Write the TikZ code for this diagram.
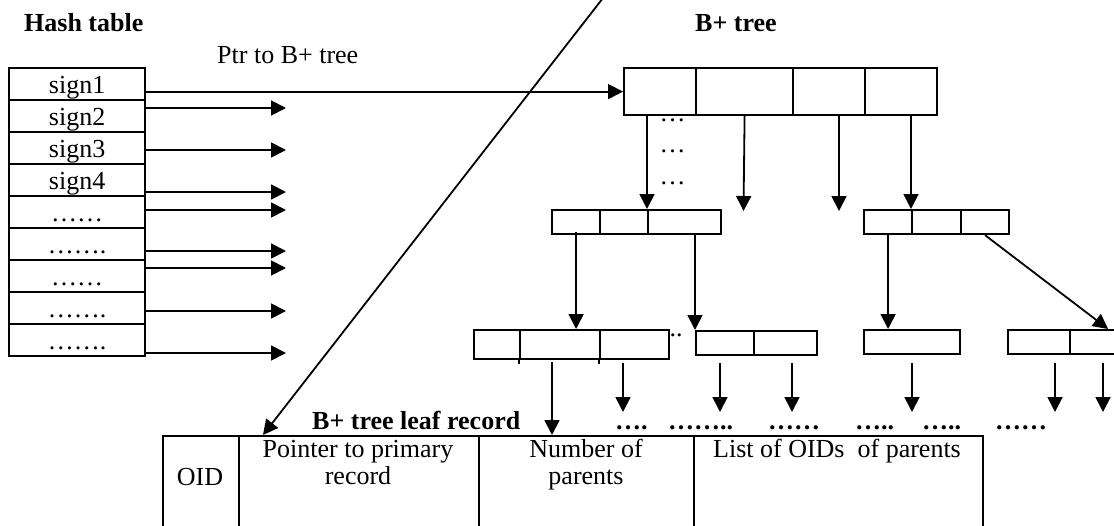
\documentclass[tikz,border=0pt]{standalone}
\usepackage{fontspec}
\setmainfont{Liberation Serif}
\usetikzlibrary{arrows.meta}
\tikzset{
  cell/.style={draw, line width=2.2pt, inner sep=0pt, anchor=north west},
  htrow/.style={cell, minimum width=136pt, minimum height=32pt, text height=25pt, text depth=7pt},
  arr/.style={line width=1.8pt, -{Triangle[length=15pt,width=15pt]}},
  txt/.style={inner sep=0pt, anchor=base},
  txtw/.style={inner sep=0pt, anchor=base west},
  btxt/.style={txtw, font=\fontsize{26}{30}\selectfont\bfseries}
}
\begin{document}
\begin{tikzpicture}[x=1pt, y=-1pt, font=\fontsize{26}{30}\selectfont]
\useasboundingbox (0,0) rectangle (1114,525);
\clip (0,0) rectangle (1114,525);

% titles
\node[btxt] (tHash) at (24,31) {Hash table};
\node[txtw] (tPtr) at (217,63) {Ptr to B+ tree};
\node[btxt] (tTree) at (695,31) {B+ tree};
\node[btxt] (tLeaf) at (312,429) {B+ tree leaf record};

% hash table rows
\node[htrow] (r1) at (8,67) {sign1};
\node[htrow] (r2) at (8,99) {sign2};
\node[htrow] (r3) at (8,131) {sign3};
\node[htrow] (r4) at (8,163) {sign4};
\node[htrow] (r5) at (8,195) {……};
\node[htrow] (r6) at (8,227) {…….};
\node[htrow] (r7) at (8,259) {……};
\node[htrow] (r8) at (8,291) {…….};
\node[htrow] (r9) at (8,323) {…….};

% root node of B+ tree
\node[cell, minimum width=72pt, minimum height=47pt] (b1) at (623,67) {};
\node[cell, minimum width=97pt, minimum height=47pt] (b2) at (695,67) {};
\node[cell, minimum width=72pt, minimum height=47pt] (b3) at (792,67) {};
\node[cell, minimum width=72pt, minimum height=47pt] (b4) at (864,67) {};

% level 2
\node[cell, minimum width=48pt, minimum height=24pt] (L1) at (551,209) {};
\node[cell, minimum width=48pt, minimum height=24pt] (L2) at (599,209) {};
\node[cell, minimum width=73pt, minimum height=24pt] (L3) at (647,209) {};
\node[cell, minimum width=48pt, minimum height=24pt] (R1) at (863,209) {};
\node[cell, minimum width=49pt, minimum height=24pt] (R2) at (911,209) {};
\node[cell, minimum width=48pt, minimum height=24pt] (R3) at (960,209) {};

% level 3
\node[cell, minimum width=46pt, minimum height=29pt] (A1) at (473,329) {};
\node[cell, minimum width=80pt, minimum height=29pt] (A2) at (519,329) {};
\node[cell, minimum width=69pt, minimum height=29pt] (A3) at (599,329) {};
\draw[cell] (A2.south west) -- ++(0,4);
\draw[cell] (A3.south west) -- ++(0,4);
\node[cell, minimum width=58pt, minimum height=24pt] (B1) at (695,330) {};
\node[cell, minimum width=63pt, minimum height=24pt] (B2) at (753,330) {};
\node[cell, minimum width=96pt, minimum height=24pt] (C1) at (863,329) {};
\node[cell, minimum width=62pt, minimum height=24pt] (D1) at (1007,329) {};
\node[cell, minimum width=70pt, minimum height=24pt] (D2) at (1069,329) {};

% leaf record table
\node[cell, minimum width=76pt, minimum height=115pt] (T1) at (162,435) {};
\node[cell, minimum width=240pt, minimum height=115pt] (T2) at (238,435) {};
\node[cell, minimum width=215pt, minimum height=115pt] (T3) at (478,435) {};
\node[cell, minimum width=289pt, minimum height=115pt] (T4) at (693,435) {};
\node[txt] (oid) at (200,485) {OID};
\node[txt] (ptrA) at (358,457) {Pointer to primary};
\node[txt] (ptrB) at (358,484) {record};
\node[txt] (numA) at (586,457) {Number of};
\node[txt] (numB) at (586,484) {parents};
\node[txt] (lst) at (837,457) {List of OIDs~ of parents};

% dots
\node[txt] (dA) at (672.5,121) {…};
\node[txt] (dB) at (672.5,152) {…};
\node[txt] (dC) at (672.5,184) {…};
\node[txt] (dD) at (676,336) {..};
\node[btxt] (e1) at (615,429) {….};
\node[btxt] (e2) at (668,429) {……..};
\node[btxt] (e3) at (768,429) {……};
\node[btxt] (e4) at (855,429) {…..};
\node[btxt] (e5) at (922,429) {…..};
\node[btxt] (e6) at (995,429) {……};

% hash table pointers
\coordinate (h2) at (286,108);
\coordinate (h3) at (286,150);
\coordinate (h4) at (286,192);
\coordinate (h5) at (286,210);
\coordinate (h6) at (286,251);
\coordinate (h7) at (286,268);
\coordinate (h8) at (286,311);
\coordinate (h9) at (286,353);
\draw[arr] (r1.east |- b1.west) -- (b1.west);
\draw[arr] (r2.east |- h2) -- (h2);
\draw[arr] (r3.east |- h3) -- (h3);
\draw[arr] (r4.east |- h4) -- (h4);
\draw[arr] (r5.east |- h5) -- (h5);
\draw[arr] (r6.east |- h6) -- (h6);
\draw[arr] (r7.east |- h7) -- (h7);
\draw[arr] (r8.east |- h8) -- (h8);
\draw[arr] (r9.east |- h9) -- (h9);

% root pointers
\coordinate (u2) at (743.5,211);
\coordinate (u3) at (839,211);
\draw[arr] (L3.north west |- b1.south) -- (L3.north west);
\draw[arr] (b2.south) -- (u2);
\draw[arr] (b3.south -| u3) -- (u3);
\draw[arr] (R2.north west |- b4.south) -- (R2.north west);

% level 2 pointers
\draw[arr] ([yshift=3pt]L1.south) -- (L1.south |- A2.north);
\draw[arr] ([yshift=1pt]L3.south -| B1.north west) -- (B1.north west);
\draw[arr] (R1.south) -- (R1.south |- C1.north);
\draw[arr] (R3.south) -- ([xshift=3pt]D2.north);

% level 3 pointers
\coordinate (p0) at (552,362);
\draw[arr] (p0) -- (p0 |- T3.north);
\foreach \i/\x in {1/623,2/720,3/792,4/912,5/1055,6/1103}{
  \coordinate (q\i) at (\x,363);
  \coordinate (w\i) at (\x,412);
  \draw[arr] (q\i) -- (w\i);
}

% diagonal pointer to leaf record
\coordinate (dtop) at (603,-2);
\draw[arr] (dtop) -- ([xshift=25pt]T2.north west);
\end{tikzpicture}
\end{document}
